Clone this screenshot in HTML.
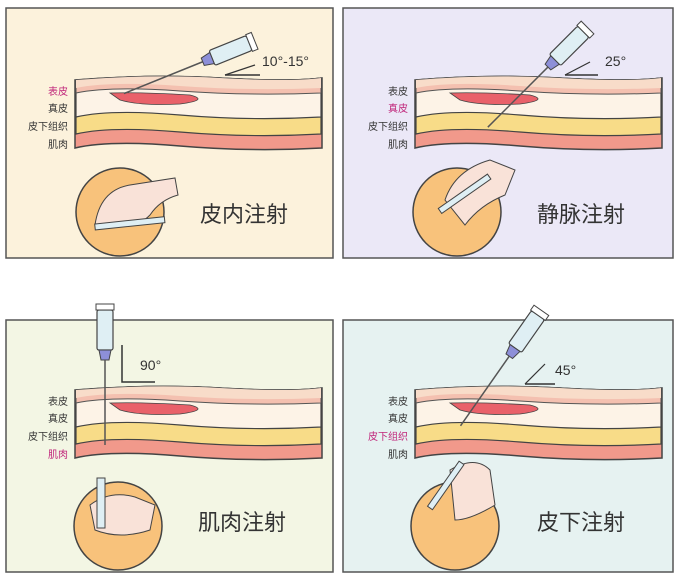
<!DOCTYPE html><html><head><meta charset="utf-8"><style>body{margin:0;background:#fff}svg{display:block}text{font-family:"Liberation Sans","Noto Sans CJK SC",sans-serif}</style></head><body>
<svg width="679" height="579" viewBox="0 0 679 579" xmlns="http://www.w3.org/2000/svg">
<defs>
<g id="slab">
<path d="M75,80 Q150,74 220,78 T322,78 L322,148 Q250,152 180,146 T75,148 Z" fill="#f1998b" stroke="#444" stroke-width="1.5"/>
<path d="M76,80 Q150,74 220,78 T321,78 L321,134 Q250,138 180,132 T76,134 Z" fill="#f8dc88" stroke="#444" stroke-width="1.2"/>
<path d="M76,80 Q150,74 220,78 T321,78 L321,117 Q250,121 180,115 T76,117 Z" fill="#fdf3e7" stroke="#444" stroke-width="1.2"/>
<path d="M76,80 Q150,74 220,78 T321,78 L321,93 Q250,96 180,91 T76,93 Z" fill="#f4c0b0" stroke="#555" stroke-width="1"/>
<path d="M76,80 Q150,74 220,78 T321,78 L321,88 Q250,91 180,86 T76,88 Z" fill="#f8dcc9"/>
<path d="M110,93 Q140,92 190,95 Q210,100 180,104 Q140,106 120,100 Z" fill="#e9616a" stroke="#444" stroke-width="0.8"/>
</g>
<g id="syr">
<rect x="0" y="-8" width="40" height="16" rx="2" fill="#dfeff4" stroke="#444" stroke-width="1.2"/>
<rect x="40" y="-9" width="6" height="18" fill="#fff" stroke="#444"/>
<path d="M0,-6 L-10,-4 L-10,4 L0,6 Z" fill="#8d8fd8" stroke="#444"/>
<line x1="-10" y1="0" x2="-95" y2="0" stroke="#555" stroke-width="1.5"/>
</g>
</defs>
<!-- TL -->
<rect x="6" y="8" width="327" height="250" fill="#fcf2dc" stroke="#555" stroke-width="1.5"/>
<use href="#slab"/>
<g font-size="10" fill="#333" text-anchor="end"><text x="68" y="95" fill="#c0257a">表皮</text><text x="68" y="112">真皮</text><text x="68" y="130">皮下组织</text><text x="68" y="148">肌肉</text></g>
<g transform="translate(212,58) rotate(-22)"><use href="#syr"/></g>
<line x1="225" y1="75" x2="260" y2="75" stroke="#333" stroke-width="1.5"/><line x1="225" y1="75" x2="255" y2="65" stroke="#333" stroke-width="1.2"/>
<text x="262" y="66" font-size="14" fill="#333">10°-15°</text>
<circle cx="120" cy="212" r="44" fill="#f8c27b" stroke="#444" stroke-width="1.5"/>
<path d="M95,225 Q100,190 130,185 L175,178 L178,195 Q160,200 150,215 Q140,225 130,225 Z" fill="#f9e2d8" stroke="#444"/>
<rect x="95" y="224" width="70" height="6" fill="#dfeff4" stroke="#444" transform="rotate(-6 95 227)"/>
<text x="200" y="222" font-size="22" fill="#333">皮内注射</text>
<!-- TR -->
<rect x="343" y="8" width="330" height="250" fill="#ebe8f7" stroke="#555" stroke-width="1.5"/>
<g transform="translate(340,0)"><use href="#slab"/></g>
<g font-size="10" fill="#333" text-anchor="end"><text x="408" y="95">表皮</text><text x="408" y="112" fill="#c0257a">真皮</text><text x="408" y="130">皮下组织</text><text x="408" y="148">肌肉</text></g>
<g transform="translate(555,60) rotate(-45)"><use href="#syr"/></g>
<line x1="565" y1="75" x2="598" y2="75" stroke="#333" stroke-width="1.5"/><line x1="565" y1="75" x2="590" y2="62" stroke="#333" stroke-width="1.2"/>
<text x="605" y="66" font-size="14" fill="#333">25°</text>
<circle cx="457" cy="212" r="44" fill="#f8c27b" stroke="#444" stroke-width="1.5"/>
<path d="M445,200 Q455,170 490,160 L515,170 L505,195 Q480,205 465,225 Z" fill="#f9e2d8" stroke="#444"/>
<rect x="440" y="208" width="60" height="6" fill="#dfeff4" stroke="#444" transform="rotate(-35 440 211)"/>
<text x="537" y="222" font-size="22" fill="#333">静脉注射</text>
<!-- BL -->
<rect x="6" y="320" width="327" height="252" fill="#f3f6e4" stroke="#555" stroke-width="1.5"/>
<g transform="translate(0,310)"><use href="#slab"/></g>
<g font-size="10" fill="#333" text-anchor="end"><text x="68" y="405">表皮</text><text x="68" y="422">真皮</text><text x="68" y="440">皮下组织</text><text x="68" y="458" fill="#c0257a">肌肉</text></g>
<g transform="translate(105,350) rotate(-90)"><use href="#syr"/></g>
<path d="M122,345 V382 H155" fill="none" stroke="#333" stroke-width="1.5"/>
<text x="140" y="370" font-size="14" fill="#333">90°</text>
<circle cx="118" cy="526" r="44" fill="#f8c27b" stroke="#444" stroke-width="1.5"/>
<path d="M90,505 Q110,490 135,497 L155,505 L150,530 Q120,540 95,530 Z" fill="#f9e2d8" stroke="#444"/>
<rect x="97" y="478" width="8" height="50" fill="#dfeff4" stroke="#444"/>
<text x="198" y="530" font-size="22" fill="#333">肌肉注射</text>
<!-- BR -->
<rect x="343" y="320" width="330" height="252" fill="#e6f2f1" stroke="#555" stroke-width="1.5"/>
<g transform="translate(340,310)"><use href="#slab"/></g>
<g font-size="10" fill="#333" text-anchor="end"><text x="408" y="405">表皮</text><text x="408" y="422">真皮</text><text x="408" y="440" fill="#c0257a">皮下组织</text><text x="408" y="458">肌肉</text></g>
<g transform="translate(515,348) rotate(-55)"><use href="#syr"/></g>
<line x1="525" y1="384" x2="555" y2="384" stroke="#333" stroke-width="1.5"/><line x1="525" y1="384" x2="545" y2="364" stroke="#333" stroke-width="1.2"/>
<text x="555" y="375" font-size="14" fill="#333">45°</text>
<circle cx="455" cy="526" r="44" fill="#f8c27b" stroke="#444" stroke-width="1.5"/>
<path d="M450,470 Q475,455 490,470 L495,505 Q470,520 455,520 Z" fill="#f9e2d8" stroke="#444"/>
<rect x="430" y="505" width="55" height="6" fill="#dfeff4" stroke="#444" transform="rotate(-55 430 508)"/>
<text x="537" y="530" font-size="22" fill="#333">皮下注射</text>
</svg>
</body></html>
